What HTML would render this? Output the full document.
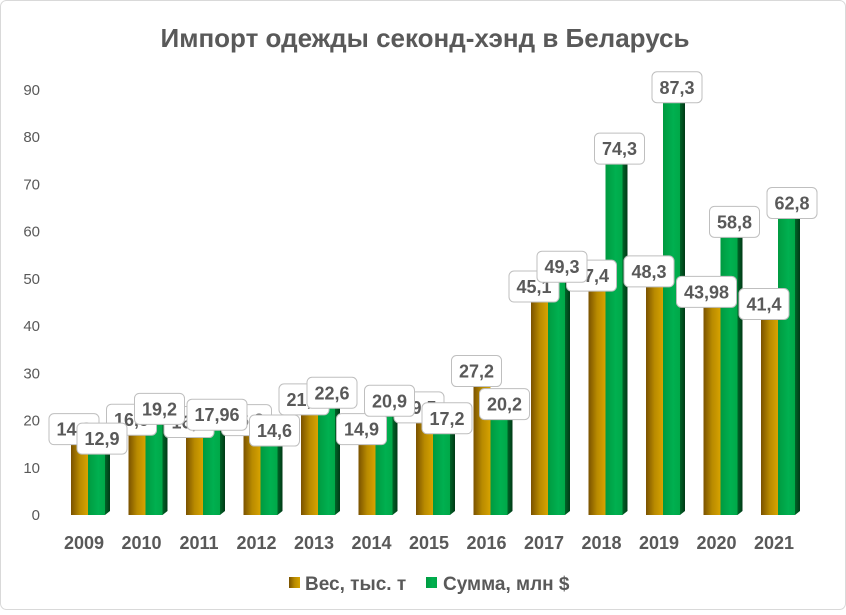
<!DOCTYPE html>
<html><head><meta charset="utf-8">
<style>
body{margin:0;background:#fff;}
#wrap{position:relative;width:846px;height:610px;font-family:"Liberation Sans",sans-serif;}
</style></head>
<body>
<div id="wrap">
<svg id="chart" width="846" height="610" xmlns="http://www.w3.org/2000/svg">
<defs>
<linearGradient id="gGold" x1="0" x2="1" y1="0" y2="0">
<stop offset="0" stop-color="#7a5200"/><stop offset="0.5" stop-color="#b88a00"/><stop offset="1" stop-color="#d7a300"/></linearGradient>
<linearGradient id="gGreen" x1="0" x2="1" y1="0" y2="0">
<stop offset="0" stop-color="#009a40"/><stop offset="0.6" stop-color="#00b050"/><stop offset="1" stop-color="#00a848"/></linearGradient>
<linearGradient id="gSide" x1="0" x2="1" y1="0" y2="0">
<stop offset="0" stop-color="#006428"/><stop offset="1" stop-color="#003a16"/></linearGradient>
</defs>
<rect x="0.5" y="0.5" width="845" height="609" rx="6" fill="#fff" stroke="#d9d9d9"/>
<text x="425" y="47" text-anchor="middle" font-size="26" font-weight="bold" fill="#595959">Импорт одежды секонд-хэнд в Беларусь</text>
<g id="yaxis"></g>
<g id="bars"></g>
<g id="xlabels"></g>
<g id="labelsGold"></g>
<g id="labelsGreen"></g>
<g>
<g>
<rect x="289" y="577" width="11" height="11" fill="url(#gGold)"/>
<text x="305" y="590" font-size="19" font-weight="bold" fill="#595959">Вес, тыс. т</text></g>
<g>
<rect x="426" y="577" width="11" height="11" fill="url(#gGreen)"/>
<text x="443" y="590" font-size="19" font-weight="bold" fill="#595959">Сумма, млн $</text></g>
</g>
</svg>
</div>
<script>
const categories = ["2009","2010","2011","2012","2013","2014","2015","2016","2017","2018","2019","2020","2021"];
const weightValues = [14.9,16.9,16.4,16.8,21.2,14.9,19.5,27.2,45.1,47.4,48.3,43.98,41.4];
const sumValues = [12.9,19.2,17.96,14.6,22.6,20.9,17.2,20.2,49.3,74.3,87.3,58.8,62.8];
const yTicks = [0,10,20,30,40,50,60,70,80,90];

const NS = "http://www.w3.org/2000/svg";
const y0 = 515, pxPerUnit = (515-90)/90;
function yScale(v){ return y0 - v*pxPerUnit; }
function xCenter(i){ return 88 + i*57.5; }
function fmt(v){ return String(v).replace('.', ','); }
function mk(tag, attrs, parent){ const e=document.createElementNS(NS,tag); for(const k in attrs) e.setAttribute(k,attrs[k]); parent.appendChild(e); return e; }

const yaxis=document.getElementById('yaxis');
yTicks.forEach(t=>{
  const e=mk('text',{x:40,y:yScale(t)+5,'text-anchor':'end','font-size':15,fill:'#595959'},yaxis);
  
  
  e.textContent=t;
});

const bars=document.getElementById('bars');
const xl=document.getElementById('xlabels');
const lg=document.getElementById('labelsGold');
const lgr=document.getElementById('labelsGreen');
const bw=17, side=5, topd=4;

function label(parent, cx, topY, v, name){
  const txt=fmt(v);
  const w=txt.length*10+10, h=31;
  const g=mk('g',{},parent);
  
  
  mk('rect',{x:cx-w/2,y:topY-h,width:w,height:h,rx:5,fill:'#fff',stroke:'#bfbfbf'},g);
  const t=mk('text',{x:cx,y:topY-9,'text-anchor':'middle','font-size':18,'font-weight':'bold',fill:'#595959'},g);
  t.textContent=txt;
}

categories.forEach((c,i)=>{
  const cx=xCenter(i);
  const gx=cx-bw, gy=yScale(weightValues[i]);
  const gb=mk('rect',{x:gx,y:gy,width:bw,height:y0-gy,fill:'url(#gGold)'},bars);
  
  
  const gt=mk('polygon',{points:`${gx},${gy} ${gx+bw},${gy} ${gx+bw+side},${gy-topd} ${gx+side},${gy-topd}`,fill:'#9c7000'},bars);
  
  
  const sx=cx, sy=yScale(sumValues[i]);
  const sb=mk('rect',{x:sx,y:sy,width:bw,height:y0-sy,fill:'url(#gGreen)'},bars);
  
  
  const ss=mk('polygon',{points:`${sx+bw},${sy} ${sx+bw+side},${sy-topd} ${sx+bw+side},${y0-topd} ${sx+bw},${y0}`,fill:'url(#gSide)'},bars);
  
  
  const st=mk('polygon',{points:`${sx},${sy} ${sx+bw},${sy} ${sx+bw+side},${sy-topd} ${sx+side},${sy-topd}`,fill:'#005a24'},bars);
  
  
  const t=mk('text',{x:cx-4,y:549,'text-anchor':'middle','font-size':18,'font-weight':'bold',fill:'#595959'},xl);
  
  
  t.textContent=c;
  label(lg, cx-14, gy, weightValues[i], 'data-label-weight');
  label(lgr, cx+14, sy, sumValues[i], 'data-label-sum');
});
</script>
</body></html>
